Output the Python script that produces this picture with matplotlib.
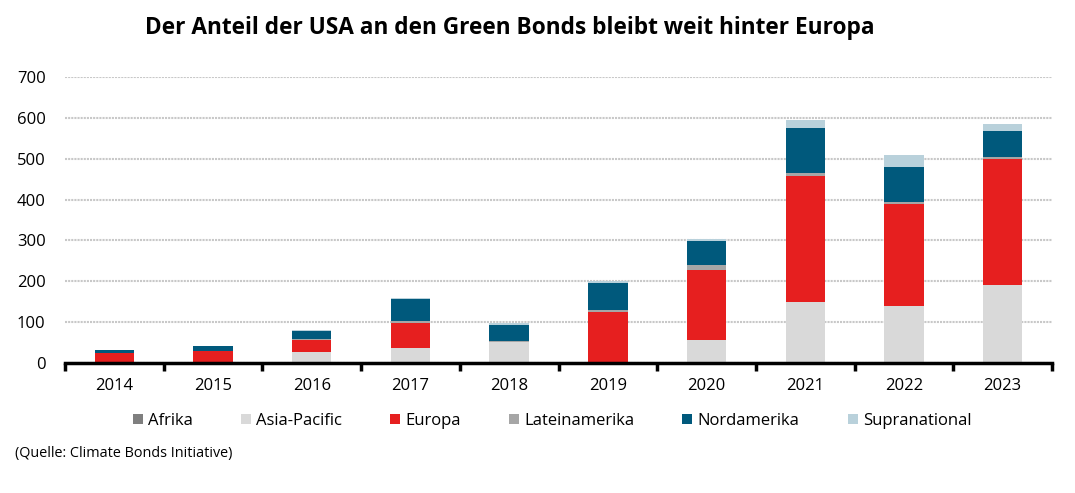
import numpy as np
import matplotlib.pyplot as plt

# Green-Bonds-Emissionen nach Region (Mrd. USD)
jahre = ['2014', '2015', '2016', '2017', '2018', '2019', '2020', '2021', '2022', '2023']
afrika = [0.3, 0.3, 0.5, 0.5, 0.5, 0.5, 0.5, 1, 1, 1]
asia_pacific = [1, 1, 26, 36, 50, 2, 55, 148, 138, 190]
europa = [23, 27, 29, 62, 1, 122, 171, 308, 251, 309]
lateinamerika = [0.5, 0.5, 3, 5, 2.5, 6, 13, 9, 5, 5]
nordamerika = [7, 12, 19, 52, 39, 65, 60, 108, 84, 64]
supranational = [1, 2, 4, 2.5, 5, 6, 3, 20, 29, 17]

serien = [('Afrika', afrika, '#7f7f7f'),
          ('Asia-Pacific', asia_pacific, '#d9d9d9'),
          ('Europa', europa, '#e61f1f'),
          ('Lateinamerika', lateinamerika, '#a6a6a6'),
          ('Nordamerika', nordamerika, '#00597c'),
          ('Supranational', supranational, '#b9d1db')]

plt.rcParams['font.family'] = ['Open Sans', 'DejaVu Sans']

fig = plt.figure(figsize=(10.75, 4.93), dpi=100)
ax = fig.add_axes([65/1075, 1-363/493, (1052-65)/1075, (363-77)/493])

x = np.arange(len(jahre))
unten = np.zeros(len(jahre))
for name, werte, farbe in serien:
    ax.bar(x, werte, 0.4, bottom=unten, color=farbe, label=name, zorder=3)
    unten = unten + np.array(werte)

ax.set_xlim(-0.5, len(jahre)-0.5)
ax.set_ylim(0, 700)
ax.set_yticks(range(0, 701, 100))
ax.yaxis.grid(True, color='#c8c8c8', linestyle=(0, (1, 0.5)), linewidth=1.5, zorder=0)
for s in ['top', 'right', 'left']:
    ax.spines[s].set_visible(False)
ax.spines['bottom'].set_linewidth(2.5)
ax.spines['bottom'].set_zorder(4)
ax.tick_params(axis='y', length=0, labelsize=12, pad=14)
ax.set_xticks(x)
ax.set_xticklabels(jahre, fontsize=12)
ax.tick_params(axis='x', length=0, pad=11)
ax.set_xticks(np.arange(-0.5, len(jahre), 1), minor=True)
ax.tick_params(axis='x', which='minor', length=6, width=2.5, direction='out')

fig.text(510/1075, 1-28/493, 'Der Anteil der USA an den Green Bonds bleibt weit hinter Europa',
         ha='center', va='center', fontsize=16.3, fontweight='bold')

ax.legend(loc='center', bbox_to_anchor=(552/1075, 1-421/493), bbox_transform=fig.transFigure,
          ncol=6, frameon=False, fontsize=12, handlelength=0.6, handleheight=0.6,
          handletextpad=0.3, columnspacing=2.9)

fig.text(15/1075, 1-453/493, '(Quelle: Climate Bonds Initiative)', fontsize=10.4, va='center')

plt.savefig('out.png', dpi=100)
